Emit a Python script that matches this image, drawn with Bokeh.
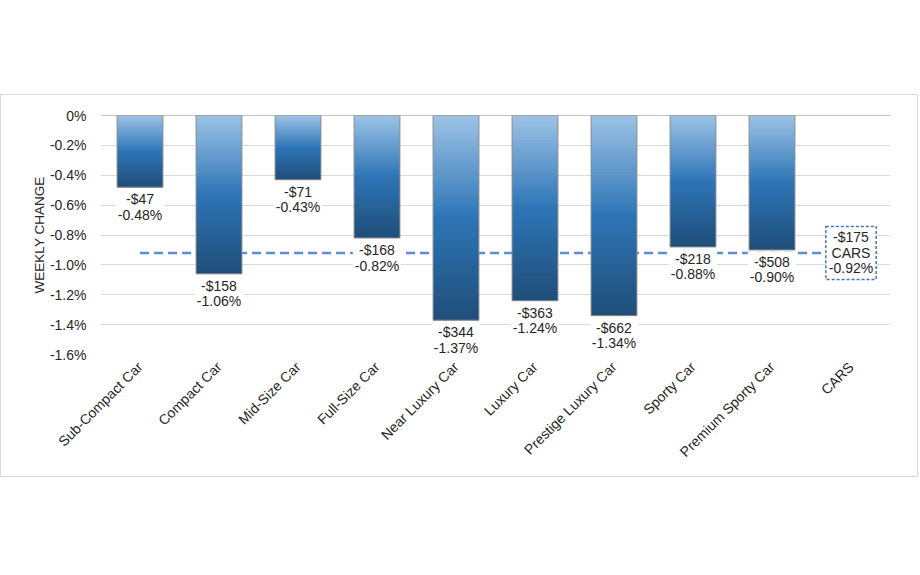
from math import pi

from bokeh.plotting import figure
from bokeh.models import FixedTicker, CustomJSTickFormatter, Span
from bokeh.core.properties import value
from bokeh.embed import file_html
from bokeh.resources import INLINE

# data
categories = ["Sub-Compact Car", "Compact Car", "Mid-Size Car", "Full-Size Car",
              "Near Luxury Car", "Luxury Car", "Prestige Luxury Car", "Sporty Car",
              "Premium Sporty Car", "CARS"]
segments = categories[:-1]
pct_change = [-0.48, -1.06, -0.43, -0.82, -1.37, -1.24, -1.34, -0.88, -0.90]
dollar_change = [-47, -158, -71, -168, -344, -363, -662, -218, -508]
total_pct = -0.92
total_dollar = -175
y_ticks = [0, -0.2, -0.4, -0.6, -0.8, -1.0, -1.2, -1.4, -1.6]

FONT = "Liberation Sans"
TEXT = "#262626"

# top -> middle -> bottom colours of each bar's gradient
stops = [(0.0, (0x9D, 0xC3, 0xE6)), (0.5, (0x2E, 0x75, 0xB6)), (1.0, (0x1F, 0x4E, 0x79))]


def shade(t):
    for (t0, c0), (t1, c1) in zip(stops[:-1], stops[1:]):
        if t <= t1:
            f = (t - t0) / (t1 - t0)
            return "#%02x%02x%02x" % tuple(round(a + (b - a) * f) for a, b in zip(c0, c1))
    return "#%02x%02x%02x" % stops[-1][1]


p = figure(x_range=categories, y_range=(-1.6, 0), width=918, height=383,
           output_backend="svg", toolbar_location=None,
           min_border_left=99, min_border_right=29, min_border_top=20, min_border_bottom=124)
p.margin = (94, 0, 0, 0)
p.styles = {"border": "1px solid #d9d9d9"}
p.outline_line_color = None
p.xgrid.grid_line_color = None
p.ygrid.grid_line_color = "#d9d9d9"

# average line behind the bars
p.line(x=[segments[0], "CARS"], y=[total_pct, total_pct], line_color="#5B8BD9",
       line_width=2.5, line_dash="9 5")

# gradient bars built from overlapping thin slices of each value
N = 60
xs, tops, bottoms, colors = [], [], [], []
for cat, v in zip(segments, pct_change):
    for k in range(N):
        xs.append(cat)
        tops.append(v * k / N)
        bottoms.append(v * min(k + 2, N) / N)
        colors.append(shade((k + 0.5) / N))
p.vbar(x=xs, top=tops, bottom=bottoms, width=0.58, fill_color=colors, line_color=None)
p.vbar(x=segments, top=0, bottom=pct_change, width=0.58, fill_color=None,
       line_color="#8c8c8c", line_width=1)

p.add_layout(Span(location=0, dimension="width", line_color="#898989", line_width=1))

labels = [f"-${abs(d)}\n{v:.2f}%" for d, v in zip(dollar_change, pct_change)]
p.text(x=segments, y=pct_change, text=labels, text_align="center", text_baseline="top",
       y_offset=2, text_font=value(FONT), text_font_size="14px", text_color=TEXT,
       text_line_height=0.97, background_fill_color="white", padding=2)

p.text(x=["CARS"], y=[total_pct], text=[f"-${abs(total_dollar)}\nCARS\n{total_pct:.2f}%"],
       text_align="center", text_baseline="middle", text_font=value(FONT),
       text_font_size="14px", text_color=TEXT, text_line_height=0.97,
       background_fill_color="white", padding=3,
       border_line_color="#4472C4", border_line_dash="3 2", border_line_width=1.5)

p.yaxis.ticker = FixedTicker(ticks=y_ticks)
p.yaxis.formatter = CustomJSTickFormatter(code="return tick == 0 ? '0%' : tick.toFixed(1) + '%';")
p.yaxis.axis_label = "WEEKLY CHANGE"
p.yaxis.axis_label_text_font = FONT
p.yaxis.axis_label_text_font_style = "normal"
p.yaxis.axis_label_text_font_size = "13.5px"
p.yaxis.axis_label_text_color = TEXT
p.yaxis.axis_label_standoff = 0
p.yaxis.major_label_text_font = FONT
p.yaxis.major_label_text_font_size = "14px"
p.yaxis.major_label_text_color = TEXT
p.yaxis.major_label_standoff = 8

for ax in (p.xaxis, p.yaxis):
    ax.axis_line_color = None
    ax.major_tick_line_color = None
    ax.minor_tick_line_color = None

p.xaxis.major_label_orientation = pi / 4
p.xaxis.major_label_text_font = FONT
p.xaxis.major_label_text_font_size = "14px"
p.xaxis.major_label_text_color = TEXT
p.xaxis.major_label_standoff = 4

open("out.html", "w").write(file_html(p, INLINE))
